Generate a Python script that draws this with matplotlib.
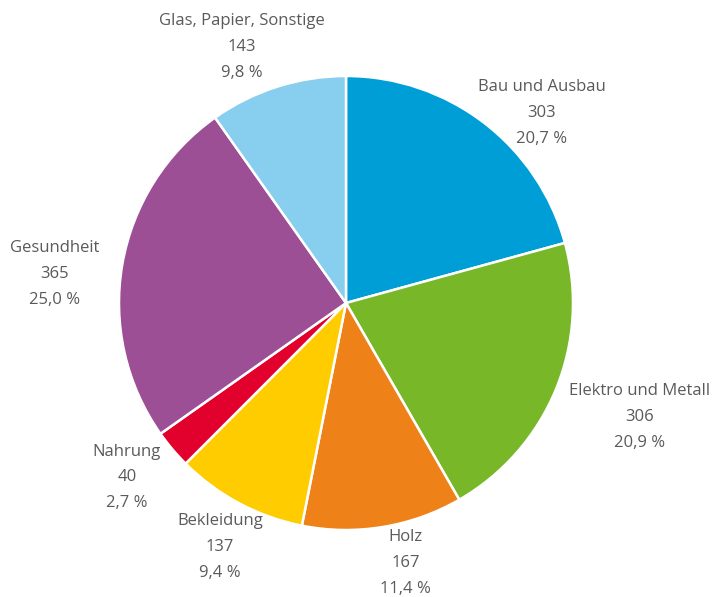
import matplotlib.pyplot as plt

# data
categories = ["Bau und Ausbau", "Elektro und Metall", "Holz", "Bekleidung",
              "Nahrung", "Gesundheit", "Glas, Papier, Sonstige"]
values = [303, 306, 167, 137, 40, 365, 143]
percents = ["20,7 %", "20,9 %", "11,4 %", "9,4 %", "2,7 %", "25,0 %", "9,8 %"]
colors = ["#009ed6", "#78b828", "#ee8219", "#ffcc00", "#e2002c", "#9d4f96", "#88ceee"]

# label centres (in pie radius units)
label_pos = [(0.863, 0.837), (1.295, -0.502), (0.264, -1.145), (-0.555, -1.075),
             (-0.965, -0.767), (-1.282, 0.128), (-0.458, 1.128)]

W, H = 714, 597
cx, cy, r = 346, 303, 227

fig = plt.figure(figsize=(W / 100, H / 100), dpi=100)
ax = fig.add_axes([0, 0, 1, 1])
ax.pie(values, colors=colors, startangle=90, counterclock=False, radius=1,
       wedgeprops=dict(edgecolor="white", linewidth=1.8))
ax.set_xlim(-cx / r, (W - cx) / r)
ax.set_ylim(-(H - cy) / r, cy / r)
ax.set_aspect("auto")
ax.axis("off")

for name, v, p, (x, y) in zip(categories, values, percents, label_pos):
    ax.text(x, y, f"{name}\n{v}\n{p}", ha="center", va="center",
            fontsize=12, color="#5a5a5a", linespacing=1.8,
            family="Open Sans")

fig.savefig("out.png", dpi=100)
plt.close(fig)
